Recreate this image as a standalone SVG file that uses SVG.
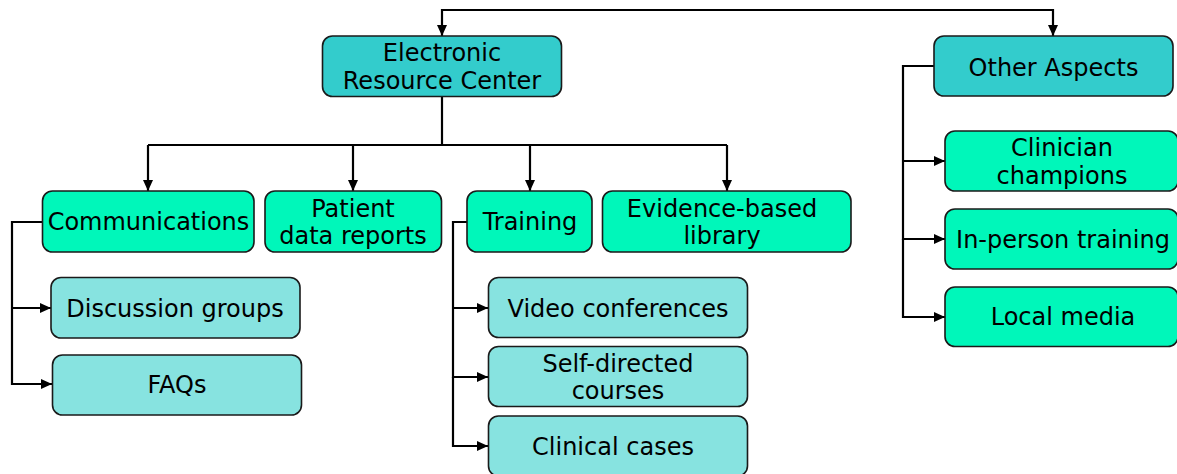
<svg xmlns="http://www.w3.org/2000/svg" width="1177" height="474" viewBox="0 0 1177 474">
  <defs>
    <marker id="arr" markerUnits="userSpaceOnUse" markerWidth="11" markerHeight="10" refX="11" refY="5" orient="auto">
      <path d="M0,0 L11,5 L0,10 Z" fill="#000"/>
    </marker>
    <style>
      .box { stroke: #1a1a1a; stroke-width: 1.6; }
      .dark { fill: #33CCCC; }
      .green { fill: #00F7BA; }
      .light { fill: #87E3E0; }
      text { font-family: "DejaVu Sans", Verdana, sans-serif; font-size: 24px; fill: #000; text-anchor: middle; }
      .conn { fill: none; stroke: #000; stroke-width: 2.2; }
      .conn path.a { marker-end: url(#arr); }
    </style>
  </defs>
  <rect width="1177" height="474" fill="#fff"/>

  <g id="connectors" class="conn">
    <path class="a" d="M748,10 H442 V36"/>
    <path class="a" d="M748,10 H1053 V36"/>
    <path d="M442,97 V145"/>
    <path d="M148,145 H727"/>
    <path class="a" d="M148,145 V191"/>
    <path class="a" d="M353,145 V191"/>
    <path class="a" d="M530,145 V191"/>
    <path class="a" d="M727,145 V191"/>
    <path d="M42,222 H12 V308"/>
    <path class="a" d="M12,308 H51"/>
    <path class="a" d="M12,308 V384 H52"/>
    <path d="M467,222 H453 V308"/>
    <path class="a" d="M453,308 H488"/>
    <path class="a" d="M453,308 V377 H488"/>
    <path class="a" d="M453,377 V446 H488"/>
    <path d="M934,66 H903 V161"/>
    <path class="a" d="M903,161 H945"/>
    <path class="a" d="M903,161 V239 H945"/>
    <path class="a" d="M903,239 V317 H945"/>
  </g>

  <g id="erc">
    <rect class="box dark" x="322.5" y="36" width="239" height="60.5" rx="10"/>
    <text x="442" y="61">Electronic</text>
    <text x="442" y="89">Resource Center</text>
  </g>
  <g id="other-aspects">
    <rect class="box dark" x="934" y="36" width="239" height="60" rx="10"/>
    <text x="1053.5" y="75.5">Other Aspects</text>
  </g>

  <g id="communications">
    <rect class="box green" x="42.5" y="191" width="211.5" height="61" rx="10"/>
    <text x="148.5" y="230">Communications</text>
  </g>
  <g id="patient-data-reports">
    <rect class="box green" x="265" y="191" width="176.5" height="61" rx="10"/>
    <text x="353" y="216.5">Patient</text>
    <text x="353" y="243.5">data reports</text>
  </g>
  <g id="training">
    <rect class="box green" x="467" y="191" width="125" height="61" rx="10"/>
    <text x="530" y="230">Training</text>
  </g>
  <g id="evidence-library">
    <rect class="box green" x="602.5" y="191" width="248.5" height="61" rx="10"/>
    <text x="722" y="216.5">Evidence-based</text>
    <text x="722" y="243.5">library</text>
  </g>

  <g id="discussion-groups">
    <rect class="box light" x="51" y="277.5" width="249" height="60.5" rx="10"/>
    <text x="175" y="316.5">Discussion groups</text>
  </g>
  <g id="faqs">
    <rect class="box light" x="52.5" y="355" width="249" height="60" rx="10"/>
    <text x="177" y="393">FAQs</text>
  </g>

  <g id="video-conferences">
    <rect class="box light" x="488.5" y="277.5" width="259" height="60" rx="10"/>
    <text x="618" y="316.5">Video conferences</text>
  </g>
  <g id="self-directed-courses">
    <rect class="box light" x="488.5" y="346.5" width="259" height="60" rx="10"/>
    <text x="618" y="371.5">Self-directed</text>
    <text x="618" y="398.5">courses</text>
  </g>
  <g id="clinical-cases">
    <rect class="box light" x="488.5" y="416" width="259" height="60" rx="10"/>
    <text x="613" y="455">Clinical cases</text>
  </g>

  <g id="clinician-champions">
    <rect class="box green" x="945" y="131" width="233" height="60" rx="10"/>
    <text x="1062" y="156">Clinician</text>
    <text x="1062" y="183.5">champions</text>
  </g>
  <g id="in-person-training">
    <rect class="box green" x="945" y="209" width="233" height="60" rx="10"/>
    <text x="1063" y="247.5">In-person training</text>
  </g>
  <g id="local-media">
    <rect class="box green" x="945" y="287" width="233" height="59.5" rx="10"/>
    <text x="1063" y="325">Local media</text>
  </g>
</svg>
